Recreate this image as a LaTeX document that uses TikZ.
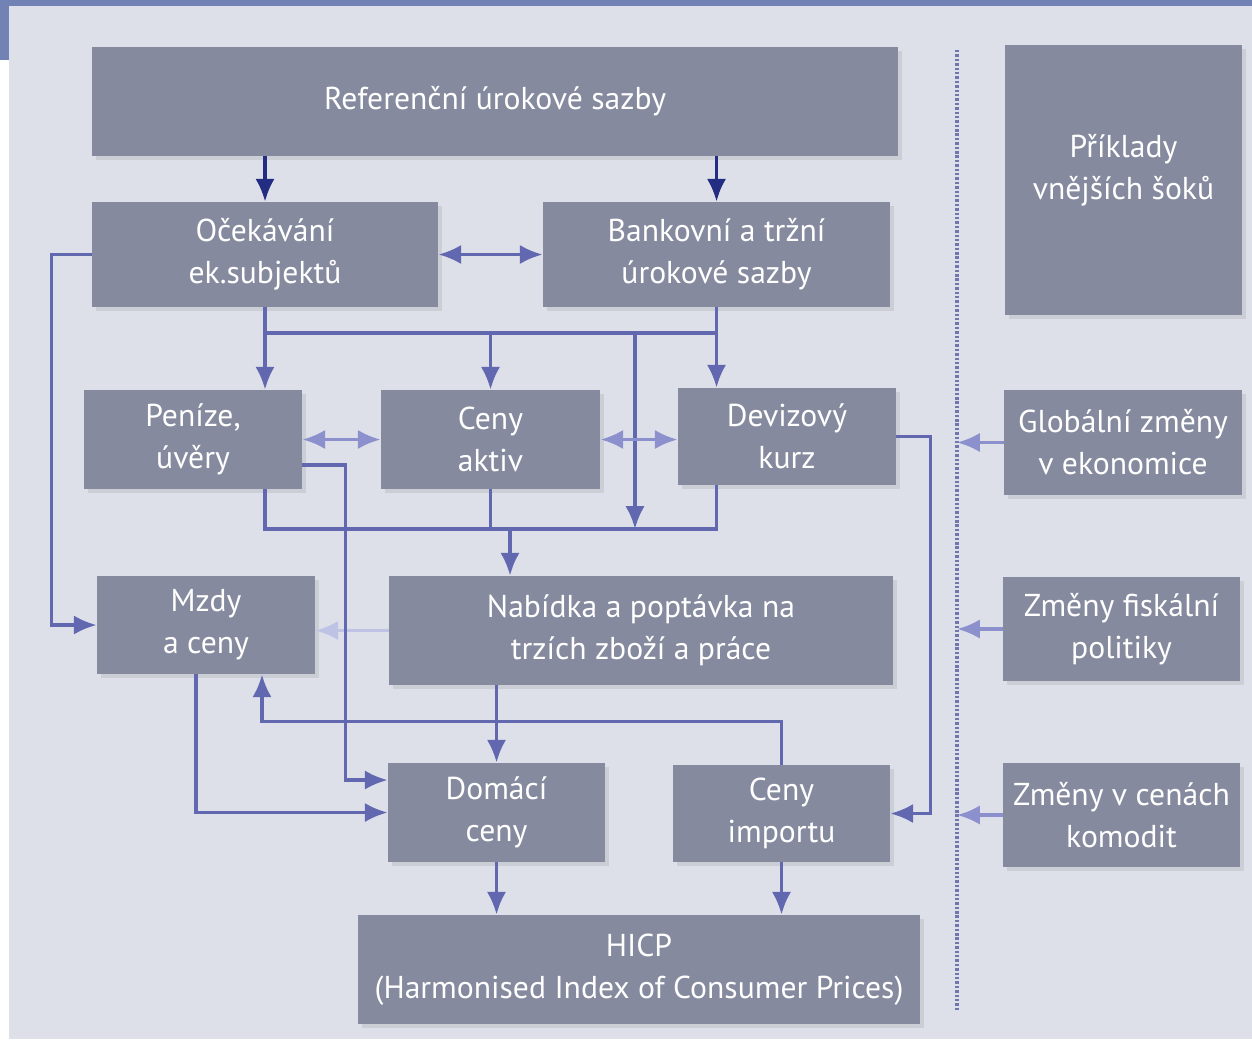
\documentclass[tikz,border=0pt]{standalone}
\usepackage{fontspec}
\setmainfont{PT Sans}
\usepackage{tikz}
\usetikzlibrary{arrows.meta,shadows}

\definecolor{panel}{RGB}{221,224,233}
\definecolor{stripe}{RGB}{115,130,180}
\definecolor{boxgrey}{RGB}{134,138,158}
\definecolor{navy}{RGB}{35,45,130}
\definecolor{flowblue}{RGB}{98,104,175}
\definecolor{lightblue}{RGB}{140,145,205}
\definecolor{faintblue}{RGB}{190,194,228}

\begin{document}
\begin{tikzpicture}[
        box/.style = {fill=boxgrey, text=white, align=center, inner sep=0pt,
                      font=\fontsize{18}{24}\selectfont,
                      drop shadow={opacity=0.18, shadow xshift=0.07cm, shadow yshift=-0.07cm}},
        line/.style = {line width=2pt, draw=flowblue},
        flow/.style = {line, -{Latex[length=13pt,width=11pt]}},
        flowdark/.style = {flow, draw=navy},
        flowboth/.style = {line, {Latex[length=13pt,width=11pt]}-{Latex[length=13pt,width=11pt]}},
        flowlight/.style = {flow, draw=lightblue},
        bothlight/.style = {flowboth, draw=lightblue},
        faint/.style = {flow, draw=faintblue}
    ]
    % Background and frame
    \useasboundingbox (0,0) rectangle (25.04,-20.78);
    \fill[panel] (0.18,-0.12) rectangle (25.04,-20.78);
    \fill[stripe] (0,0) rectangle (25.04,-0.12);
    \fill[stripe] (0,0) rectangle (0.18,-1.2);

    % Boxes
    \node[box, minimum width=16.12cm, minimum height=2.18cm] (ref) at (9.9,-2.03) {Referenční úrokové sazby};
    \node[box, minimum width=6.92cm, minimum height=2.1cm] (ocek) at (5.3,-5.09) {Očekávání\\ek.subjektů};
    \node[box, minimum width=6.94cm, minimum height=2.1cm] (bank) at (14.33,-5.09) {Bankovní a tržní\\úrokové sazby};
    \node[box, minimum width=4.74cm, minimum height=5.4cm] (priklady) at (22.47,-3.6) {Příklady\\vnějších šoků\\[-0.33cm]};
    \node[box, minimum width=4.36cm, minimum height=1.98cm] (penize) at (3.86,-8.79) {Peníze,\\úvěry};
    \node[box, minimum width=4.38cm, minimum height=1.98cm] (aktiv) at (9.81,-8.79) {Ceny\\aktiv};
    \node[box, minimum width=4.36cm, minimum height=1.94cm] (deviz) at (15.74,-8.73) {Devizový\\kurz};
    \node[box, minimum width=4.76cm, minimum height=2.1cm] (global) at (22.46,-8.85) {Globální změny\\v ekonomice};
    \node[box, minimum width=4.36cm, minimum height=1.96cm] (mzdy) at (4.12,-12.5) {Mzdy\\a ceny};
    \node[box, minimum width=10.08cm, minimum height=2.18cm] (nabidka) at (12.82,-12.61) {Nabídka a poptávka na\\trzích zboží a práce};
    \node[box, minimum width=4.74cm, minimum height=2.08cm] (fiskal) at (22.43,-12.58) {Změny fiskální\\politiky};
    \node[box, minimum width=4.34cm, minimum height=1.98cm] (domaci) at (9.93,-16.25) {Domácí\\ceny};
    \node[box, minimum width=4.34cm, minimum height=1.94cm] (import) at (15.63,-16.27) {Ceny\\importu};
    \node[box, minimum width=4.74cm, minimum height=2.08cm] (komod) at (22.43,-16.3) {Změny v cenách\\komodit};
    \node[box, minimum width=11.24cm, minimum height=2.18cm] (hicp) at (12.78,-19.39) {HICP\\(Harmonised Index of Consumer Prices)};

    % Helper points
    \coordinate (bus1) at (12.7,-6.66);
    \coordinate (bus2) at (12.7,-10.58);
    \coordinate (nabin) at (10.2,-10.58);
    \coordinate (septop) at (19.14,-1.0);
    \coordinate (sepbot) at (19.14,-20.24);

    % Referencni sazby
    \draw[flowdark] (ref.south -| ocek.north) -- (ocek.north);
    \draw[flowdark] (ref.south -| bank.north) -- (bank.north);
    \draw[flowboth] (ocek.east) -- (bank.west);

    % upper bus
    \draw[line] (ocek.south |- bus1) -- (bank.south |- bus1);
    \draw[flow] (ocek.south) -- (ocek.south |- penize.north);
    \draw[flow] (bank.south) -- (bank.south |- deviz.north);
    \draw[flow] (aktiv.north |- bus1) -- (aktiv.north);
    \draw[flow] (bus1) -- (bus2);

    % channels between middle boxes
    \draw[bothlight] (penize.east) -- (aktiv.west);
    \draw[bothlight] (aktiv.east) -- (aktiv.east -| deviz.west);

    % lower bus into Nabidka
    \draw[line] (ocek.south |- penize.south) -- (ocek.south |- bus2) -- (bank.south |- bus2) -- (bank.south |- deviz.south);
    \draw[line] (aktiv.south) -- (aktiv.south |- bus2);
    \draw[flow] (nabin) -- (nabin |- nabidka.north);

    % loops on the left
    \draw[flow] (ocek.west) -- ++(-0.8,0) |- (mzdy.west);
    \draw[faint] (nabidka.west) -- (nabidka.west -| mzdy.east);
    \draw[flow] ([yshift=-0.51cm]penize.east) -- ++(0.86,0) |- ([yshift=0.65cm]domaci.west);
    \draw[flow] ([xshift=-0.2cm]mzdy.south) |- (domaci.west);
    \draw[flow] (import.north) -- ++(0,0.86) -| ([xshift=1.12cm]mzdy.south);
    \draw[flow] (nabidka.south -| domaci.north) -- (domaci.north);

    % exchange rate to import prices
    \draw[flow] (deviz.east) -- ++(0.68,0) |- (import.east);

    % into HICP
    \draw[flow] (domaci.south) -- (domaci.south |- hicp.north);
    \draw[flow] (import.south) -- (import.south |- hicp.north);

    % external shocks
    \draw[navy!65, line width=2.2pt, dash pattern=on 1.4pt off 1.1pt] (septop) -- (sepbot);
    \draw[flowlight] (global.west) -- (global.west -| septop);
    \draw[flowlight] (fiskal.west) -- (fiskal.west -| septop);
    \draw[flowlight] (komod.west) -- (komod.west -| septop);
\end{tikzpicture}
\end{document}
